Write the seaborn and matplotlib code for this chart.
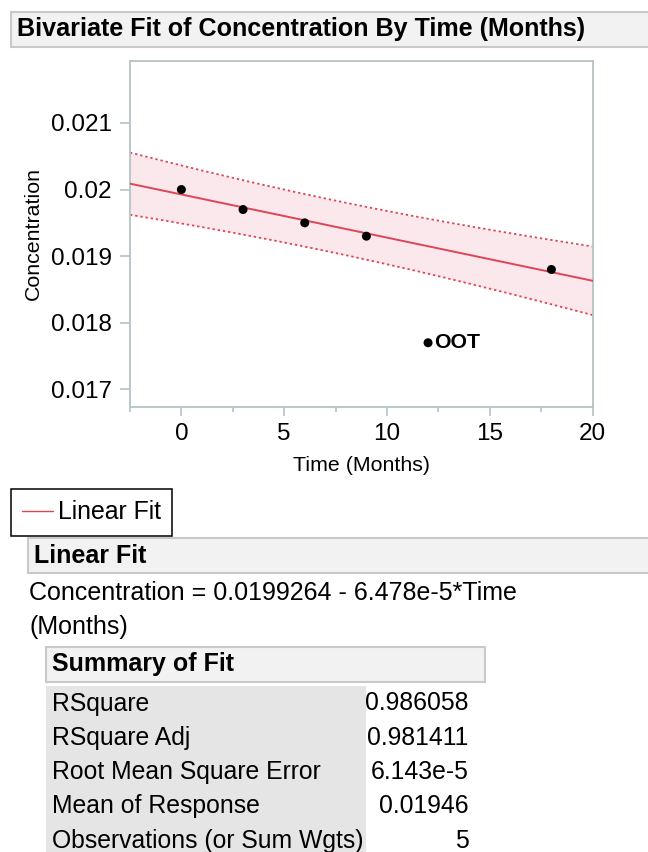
import numpy as np
import pandas as pd
import seaborn as sns
import matplotlib
matplotlib.use("Agg")
import matplotlib.pyplot as plt
from matplotlib.patches import Rectangle
from matplotlib.lines import Line2D
from matplotlib.ticker import FixedLocator, FuncFormatter, MultipleLocator

# ---------------- data ----------------
time_months = [0, 3, 6, 9, 18]
concentration = [0.0200, 0.0197, 0.0195, 0.0193, 0.0188]
oot_time = [12]
oot_conc = [0.0177]
oot_label = "OOT"

x_ticks = [0, 5, 10, 15, 20]
y_ticks = [0.017, 0.018, 0.019, 0.020, 0.021]
x_range = [-2.5, 20]
y_range = [0.01674, 0.02193]
t_crit = 5.841  # two-sided 99% t quantile, 3 df (prediction band)

title_text = "Bivariate Fit of Concentration By Time (Months)"
x_label = "Time (Months)"
y_label = "Concentration"
legend_label = "Linear Fit"
fit_header = "Linear Fit"
equation_lines = ["Concentration = 0.0199264 - 6.478e-5*Time", "(Months)"]
summary_header = "Summary of Fit"
summary_labels = ["RSquare", "RSquare Adj", "Root Mean Square Error",
                  "Mean of Response", "Observations (or Sum Wgts)"]
summary_values = ["0.986058", "0.981411", "6.143e-5", "0.01946", "5"]

# ---------------- style ----------------
W, H = 648, 852
sns.set_style("white")
plt.rcParams["font.family"] = ["Liberation Sans", "DejaVu Sans"]
plt.rcParams["text.color"] = "black"
plt.rcParams["axes.labelcolor"] = "black"

fit_color = "#dd4656"
band_color = "#fbe8ec"
spine_color = "#b3c4c4"
bar_fill = "#f2f2f2"
bar_edge = "#c9c9c9"
table_fill = "#e5e5e5"


def fx(px):
    return px / W


def fy(py):
    return 1 - py / H


fig = plt.figure(figsize=(W / 100, H / 100), dpi=100)
fig.patch.set_facecolor("white")

# ---------------- plot ----------------
ax_l, ax_r, ax_t, ax_b = 130, 592.5, 61, 406.7
ax = fig.add_axes([fx(ax_l), fy(ax_b), (ax_r - ax_l) / W, (ax_b - ax_t) / H])

df = pd.DataFrame({"Time": time_months, "Conc": concentration})
slope, intercept = np.polyfit(df["Time"], df["Conc"], 1)
n = len(df)
resid = df["Conc"] - (intercept + slope * df["Time"])
rmse = np.sqrt((resid ** 2).sum() / (n - 2))
xbar = df["Time"].mean()
sxx = ((df["Time"] - xbar) ** 2).sum()

grid = np.linspace(x_range[0], x_range[1], 200)
fitted = intercept + slope * grid
half = t_crit * rmse * np.sqrt(1 + 1 / n + (grid - xbar) ** 2 / sxx)

ax.fill_between(grid, fitted - half, fitted + half, color=band_color, lw=0, zorder=1)
ax.plot(grid, fitted + half, color=fit_color, lw=1.3, ls=(0, (1.3, 1.6)), zorder=2)
ax.plot(grid, fitted - half, color=fit_color, lw=1.3, ls=(0, (1.3, 1.6)), zorder=2)
sns.lineplot(x=grid, y=fitted, ax=ax, color=fit_color, lw=1.4, zorder=3)

sns.scatterplot(data=df, x="Time", y="Conc", ax=ax, color="black", s=42,
                edgecolor="none", zorder=4)
sns.scatterplot(x=oot_time, y=oot_conc, ax=ax, color="black", s=42,
                edgecolor="none", zorder=4)
for xt, yt in zip(oot_time, oot_conc):
    ax.annotate(oot_label, xy=(xt, yt), xytext=(4.5, 0), textcoords="offset points",
                ha="left", va="center", fontsize=15.3, fontweight="bold", color="black")

ax.set_xlim(*x_range)
ax.set_ylim(*y_range)
ax.xaxis.set_major_locator(FixedLocator(x_ticks))
ax.xaxis.set_minor_locator(MultipleLocator(2.5))
ax.yaxis.set_major_locator(FixedLocator(y_ticks))
ax.yaxis.set_major_formatter(FuncFormatter(lambda v, p: f"{v:g}"))

for s in ax.spines.values():
    s.set_color(spine_color)
    s.set_linewidth(1.3)
ax.tick_params(axis="both", which="both", direction="out", color=spine_color,
               width=1.2, labelsize=17.5, labelcolor="black")
ax.tick_params(axis="y", which="major", length=7.2, pad=6, left=True)
ax.tick_params(axis="x", which="major", length=6.5, pad=5, bottom=True)
ax.tick_params(axis="x", which="minor", length=3.6, bottom=True)

ax.set_xlabel(x_label, fontsize=15.4, va="center", ha="center", color="black")
ax.set_ylabel(y_label, fontsize=15.4, va="center", ha="center", color="black")
ax.xaxis.set_label_coords(0.5, (ax_b - 465.3) / (ax_b - ax_t))
ax.yaxis.set_label_coords((33.8 - ax_l) / (ax_r - ax_l), 0.5)

# ---------------- report chrome ----------------
def bar(x0, y0, x1, y1, fill, edge=None, lw=1.5):
    fig.patches.append(Rectangle((fx(x0), fy(y1)), (x1 - x0) / W, (y1 - y0) / H,
                                 transform=fig.transFigure, facecolor=fill,
                                 edgecolor=edge if edge else "none", lw=lw, zorder=0))

bar(11, 11.7, 670, 46.7, bar_fill, bar_edge)
fig.text(fx(17), fy(36), title_text, fontsize=18.1, fontweight="bold", va="baseline")

leg = fig.legend(handles=[Line2D([0], [0], color=fit_color, lw=1.0)], labels=[legend_label],
                 loc="upper left", bbox_to_anchor=(fx(11), fy(489.3)),
                 bbox_transform=fig.transFigure, borderaxespad=0, frameon=True,
                 fancybox=False, edgecolor="black", framealpha=1, fontsize=17.9,
                 borderpad=0.45, handlelength=1.25, handletextpad=0.2,
                 labelcolor="black")
leg.get_frame().set_linewidth(1.1)

bar(28.3, 538.3, 670, 573.3, bar_fill, bar_edge)
fig.text(fx(34.3), fy(563.3), fit_header, fontsize=18, fontweight="bold", va="baseline")

fig.text(fx(29.3), fy(600), equation_lines[0], fontsize=18, va="baseline")
fig.text(fx(29.3), fy(634), equation_lines[1], fontsize=18, va="baseline")

bar(45.7, 646.7, 485, 681.7, bar_fill, bar_edge)
fig.text(fx(51.7), fy(671.5), summary_header, fontsize=18, fontweight="bold", va="baseline")

bar(46, 686, 365.7, 860, table_fill)
for i, (lab, val) in enumerate(zip(summary_labels, summary_values)):
    yb = 710.5 + i * 34.3
    fig.text(fx(51.7), fy(yb), lab, fontsize=17.8, va="baseline")
    fig.text(fx(468.3), fy(yb), val, fontsize=17.8, va="baseline", ha="right")

fig.savefig("out.png", dpi=100, facecolor="white")
